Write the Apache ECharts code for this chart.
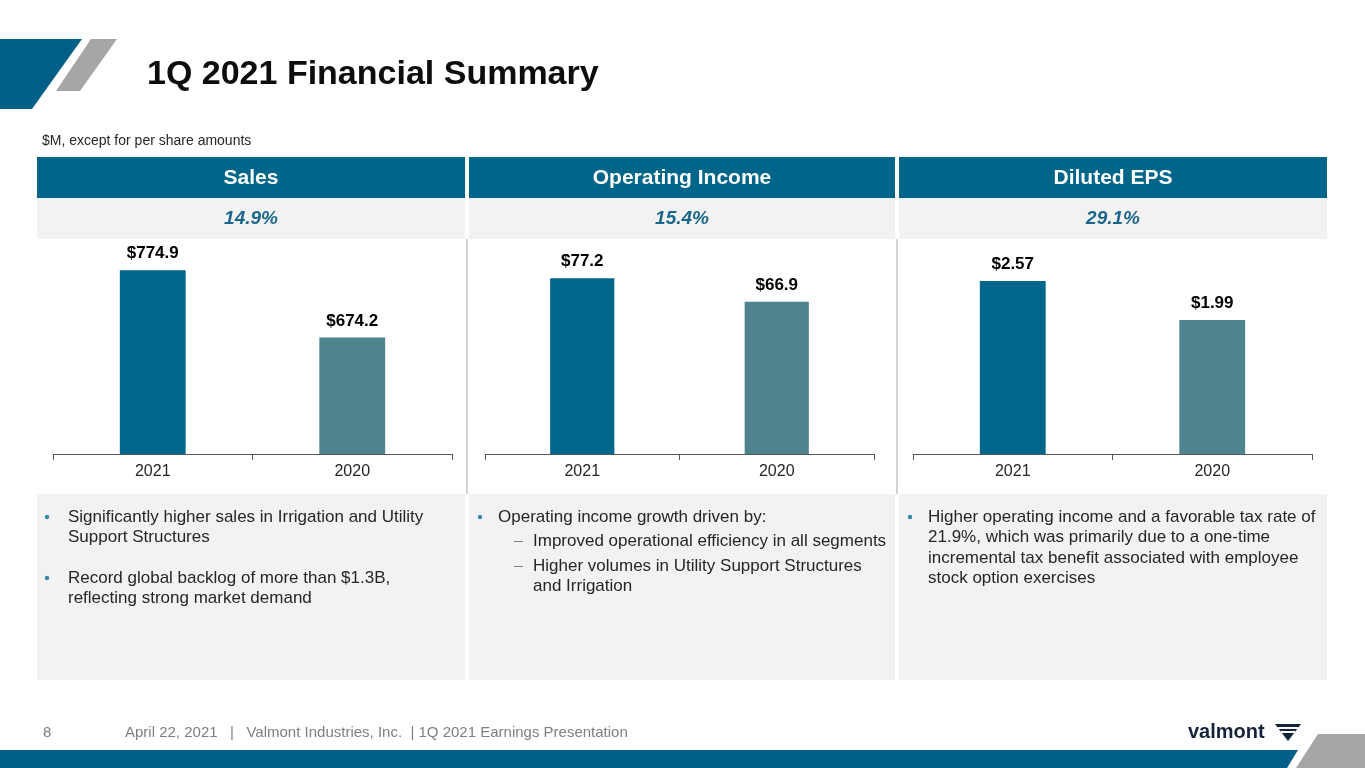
<!DOCTYPE html>
<html>
<head>
<meta charset="utf-8">
<title>1Q 2021 Financial Summary</title>
<script src="https://cdn.jsdelivr.net/npm/echarts@6/dist/echarts.min.js"></script>
<style>
  html, body { margin: 0; padding: 0; background: #fff; }
  #main { width: 1365px; height: 768px; }
</style>
</head>
<body>
<div id="main"></div>
<script>
// data
const years = ['2021', '2020'];
const salesValues = [774.9, 674.2];
const opIncomeValues = [77.2, 66.9];
const epsValues = [2.57, 1.99];
const panelTitles = ['Sales', 'Operating Income', 'Diluted EPS'];
const growthLabels = ['14.9%', '15.4%', '29.1%'];

const FONT = 'Arial, "Liberation Sans", sans-serif';
const HEADER_BLUE = '#006689';
const BAR_COLORS = ['#00668A', '#4E848D'];
const PANEL_GRAY = '#F2F2F2';
const TEXT = '#262626';

// column boxes (x, width)
const cols = [
  { x: 37, w: 428 },
  { x: 469, w: 426 },
  { x: 899, w: 428 }
];

// axis grids for the three small bar charts
const grids = [
  { left: 53, width: 399, top: 240, height: 214 },
  { left: 485, width: 389, top: 240, height: 214 },
  { left: 913, width: 399, top: 240, height: 214 }
];
const yRanges = [
  { min: 500, max: 820 },
  { min: 0, max: 94 },
  { min: 0, max: 3.18 }
];
const seriesValues = [salesValues, opIncomeValues, epsValues];
const digits = [1, 1, 2];

function barSeries(i) {
  return {
    type: 'bar',
    xAxisIndex: i,
    yAxisIndex: i,
    barWidth: '33%',
    clip: true,
    data: seriesValues[i].map((v, k) => ({
      value: v,
      itemStyle: { color: BAR_COLORS[k] }
    })),
    label: {
      show: true,
      position: 'top',
      distance: 8,
      fontFamily: FONT,
      fontSize: 17,
      fontWeight: 'bold',
      color: '#000',
      formatter: p => '$' + p.value.toFixed(digits[i])
    }
  };
}

// text blocks of the bottom panels
const LINE_H = 20.5;
function textBlock(x, y, lines) {
  return {
    type: 'text',
    style: {
      x: x, y: y,
      text: lines.join('\n'),
      fontFamily: FONT, fontSize: 17, lineHeight: LINE_H,
      fill: TEXT, verticalAlign: 'top'
    }
  };
}
function bullet(x, yMid) {
  return {
    type: 'circle',
    shape: { cx: x, cy: yMid, r: 2.2 },
    style: { fill: '#3A86A8' }
  };
}
function dash(x, yMid) {
  return {
    type: 'rect',
    shape: { x: x, y: yMid, width: 9, height: 1 },
    style: { fill: '#7F7F7F' }
  };
}

const graphics = [];

// top-left decoration
graphics.push({
  type: 'polygon',
  shape: { points: [[0, 39], [82, 39], [32, 109], [0, 109]] },
  style: { fill: '#005F86' }
});
graphics.push({
  type: 'polygon',
  shape: { points: [[91, 39], [117, 39], [80, 91], [56, 91]] },
  style: { fill: '#A6A6A6' }
});

// title and unit note
graphics.push({
  type: 'text',
  style: {
    x: 147, y: 75, text: '1Q 2021 Financial Summary',
    fontFamily: FONT, fontSize: 34, fontWeight: 'bold',
    fill: '#0D0D0D', verticalAlign: 'middle'
  }
});
graphics.push({
  type: 'text',
  style: {
    x: 42, y: 141, text: '$M, except for per share amounts',
    fontFamily: FONT, fontSize: 14, fill: TEXT, verticalAlign: 'middle'
  }
});

// column headers, growth rows, bottom panels
cols.forEach((c, i) => {
  graphics.push({
    type: 'rect',
    shape: { x: c.x, y: 157, width: c.w, height: 41 },
    style: { fill: HEADER_BLUE }
  });
  graphics.push({
    type: 'text',
    style: {
      x: c.x + c.w / 2, y: 178, text: panelTitles[i],
      fontFamily: FONT, fontSize: 21, fontWeight: 'bold',
      fill: '#fff', align: 'center', verticalAlign: 'middle'
    }
  });
  graphics.push({
    type: 'rect',
    shape: { x: c.x, y: 198, width: c.w, height: 41 },
    style: { fill: PANEL_GRAY }
  });
  graphics.push({
    type: 'text',
    style: {
      x: c.x + c.w / 2, y: 219, text: growthLabels[i],
      fontFamily: FONT, fontSize: 19, fontWeight: 'bold', fontStyle: 'italic',
      fill: '#1A678B', align: 'center', verticalAlign: 'middle'
    }
  });
  graphics.push({
    type: 'rect',
    shape: { x: c.x, y: 494, width: c.w, height: 186 },
    style: { fill: PANEL_GRAY }
  });
});

// thin separators between chart areas
[467, 897].forEach(x => {
  graphics.push({
    type: 'line',
    shape: { x1: x, y1: 239, x2: x, y2: 494 },
    style: { stroke: '#A6A6A6', lineWidth: 1 }
  });
});

// Sales notes
graphics.push(bullet(47, 517));
graphics.push(textBlock(68, 507, ['Significantly higher sales in Irrigation and Utility', 'Support Structures']));
graphics.push(bullet(47, 578));
graphics.push(textBlock(68, 568, ['Record global backlog of more than $1.3B,', 'reflecting strong market demand']));

// Operating income notes
graphics.push(bullet(480, 517));
graphics.push(textBlock(498, 507, ['Operating income growth driven by:']));
graphics.push(dash(514, 541));
graphics.push(textBlock(533, 531, ['Improved operational efficiency in all segments']));
graphics.push(dash(514, 566));
graphics.push(textBlock(533, 556, ['Higher volumes in Utility Support Structures', 'and Irrigation']));

// EPS notes
graphics.push(bullet(910, 517));
graphics.push(textBlock(928, 507, [
  'Higher operating income and a favorable tax rate of',
  '21.9%, which was primarily due to a one-time',
  'incremental tax benefit associated with employee',
  'stock option exercises'
]));

// footer
graphics.push({
  type: 'text',
  style: {
    x: 43, y: 733, text: '8',
    fontFamily: FONT, fontSize: 15, fill: '#7F7F7F', verticalAlign: 'middle'
  }
});
graphics.push({
  type: 'text',
  style: {
    x: 125, y: 733,
    text: 'April 22, 2021   |   Valmont Industries, Inc.  | 1Q 2021 Earnings Presentation',
    fontFamily: FONT, fontSize: 15, fill: '#7F7F7F', verticalAlign: 'middle'
  }
});
graphics.push({
  type: 'polygon',
  shape: { points: [[0, 750], [1298, 750], [1287, 768], [0, 768]] },
  style: { fill: '#005F86' }
});
graphics.push({
  type: 'polygon',
  shape: { points: [[1318, 734], [1365, 734], [1365, 768], [1296, 768]] },
  style: { fill: '#A6A6A6' }
});

// logo
graphics.push({
  type: 'text',
  style: {
    x: 1188, y: 732, text: 'valmont',
    fontFamily: FONT, fontSize: 20, fontWeight: 'bold',
    fill: '#16243A', verticalAlign: 'middle'
  }
});
graphics.push({
  type: 'polygon',
  shape: { points: [[1275, 724], [1301, 724], [1288, 741]] },
  style: { fill: '#16243A' }
});
graphics.push({
  type: 'rect',
  shape: { x: 1278, y: 727, width: 20, height: 2 },
  style: { fill: '#fff' }
});
graphics.push({
  type: 'rect',
  shape: { x: 1281, y: 731, width: 14, height: 2 },
  style: { fill: '#fff' }
});

const chart = echarts.init(document.getElementById('main'), null, { renderer: 'canvas' });

const option = {
  animation: false,
  backgroundColor: '#fff',
  grid: grids.map(g => ({ ...g, containLabel: false })),
  xAxis: grids.map((g, i) => ({
    type: 'category',
    gridIndex: i,
    data: years,
    axisLine: { show: true, onZero: false, lineStyle: { color: '#595959', width: 1 } },
    axisTick: { show: true, length: 6, lineStyle: { color: '#595959' } },
    axisLabel: { fontFamily: FONT, fontSize: 16, color: TEXT, margin: 10 }
  })),
  yAxis: grids.map((g, i) => ({
    type: 'value',
    gridIndex: i,
    min: yRanges[i].min,
    max: yRanges[i].max,
    show: false,
    splitLine: { show: false }
  })),
  series: grids.map((g, i) => barSeries(i)),
  graphic: graphics
};

chart.setOption(option);
</script>
</body>
</html>
